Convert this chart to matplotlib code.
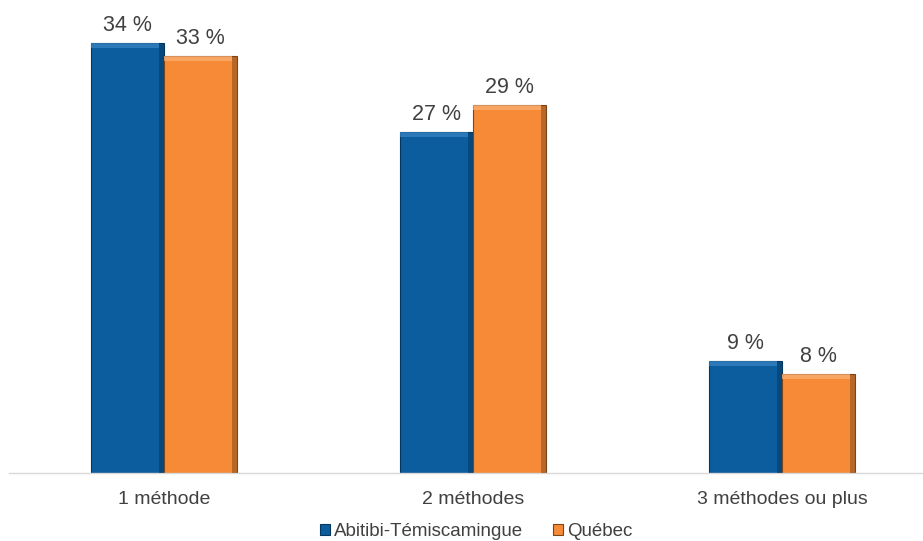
import numpy as np
import matplotlib.pyplot as plt
from matplotlib.patches import Rectangle

categories = ['1 méthode', '2 méthodes', '3 méthodes ou plus']
abitibi = [34.0, 27.0, 8.85]
quebec = [33.0, 29.1, 7.83]
abitibi_labels = ['34 %', '27 %', '9 %']
quebec_labels = ['33 %', '29 %', '8 %']
series_names = ['Abitibi-Témiscamingue', 'Québec']

plt.rcParams['font.family'] = ['Liberation Sans', 'DejaVu Sans']
txt = '#404040'
blue, blue_dk, blue_lt = '#0b5d9e', '#06375e', '#3a86c4'
orange, orange_dk, orange_lt = '#f68a37', '#7a4518', '#fbb27a'

fig = plt.figure(figsize=(9.23, 5.41), dpi=100)
ax = fig.add_axes([9/923, 68/541, 913/923, 455/541])

x = np.arange(len(categories))
w = 0.236


def bevel(ax, bars, dark, light):
    # fake 3D bevel: light strip at top, dark strip on right side
    for b in bars:
        x0, y0 = b.get_x(), b.get_y()
        bw, bh = b.get_width(), b.get_height()
        ax.add_patch(Rectangle((x0 + bw * 0.93, y0), bw * 0.07, bh,
                               color=dark, alpha=0.5, lw=0, zorder=3))
        ax.add_patch(Rectangle((x0, y0 + bh - 0.4), bw * 0.93, 0.4,
                               color=light, alpha=0.7, lw=0, zorder=3))


b1 = ax.bar(x - w / 2, abitibi, w, color=blue, edgecolor=blue_dk, lw=0.8,
            label=series_names[0], zorder=2)
b2 = ax.bar(x + w / 2, quebec, w, color=orange, edgecolor=orange_dk, lw=0.8,
            label=series_names[1], zorder=2)
bevel(ax, b1, blue_dk, blue_lt)
bevel(ax, b2, orange_dk, orange_lt)

for bars, labs in [(b1, abitibi_labels), (b2, quebec_labels)]:
    for b, lab in zip(bars, labs):
        ax.annotate(lab, (b.get_x() + b.get_width() / 2, b.get_height()),
                    xytext=(0, 5), textcoords='offset points',
                    ha='center', va='bottom', fontsize=15.5, color=txt)

ax.set_xlim(-0.502, 2.453)
ax.set_ylim(0, 36)
ax.set_yticks([])
ax.set_xticks(x)
ax.set_xticklabels(categories, fontsize=14, color=txt)
ax.tick_params(axis='x', length=0, pad=13)
for s in ['top', 'right', 'left']:
    ax.spines[s].set_visible(False)
ax.spines['bottom'].set_color('#d9d9d9')
ax.spines['bottom'].set_linewidth(1)

leg = fig.legend(handles=[b1, b2], labels=series_names, loc='lower center',
                 bbox_to_anchor=(0.516, -0.03), ncol=2, frameon=False,
                 fontsize=13.5, handlelength=0.55, handleheight=0.55,
                 handletextpad=0.2, columnspacing=1.6)
for t in leg.get_texts():
    t.set_color(txt)

fig.savefig('out.png', dpi=100)
